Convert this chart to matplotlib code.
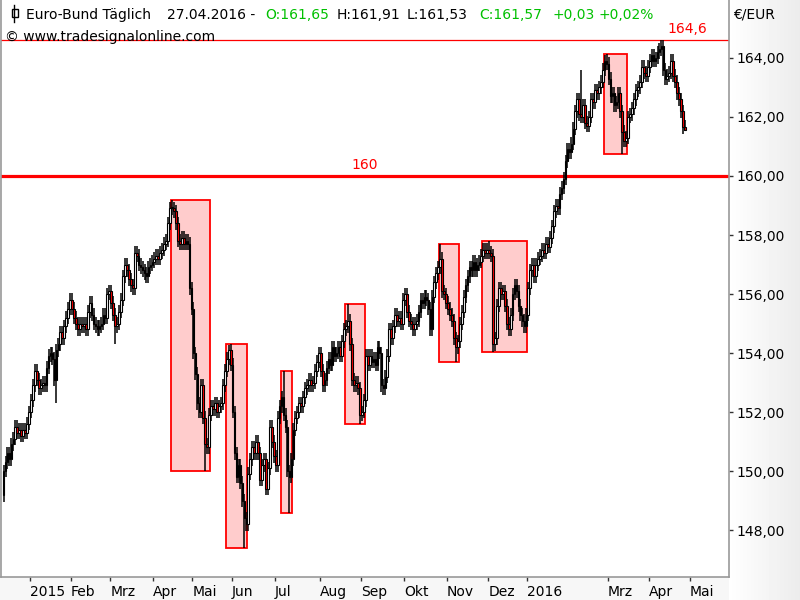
import numpy as np
import pandas as pd
import matplotlib
matplotlib.use('Agg')
import matplotlib.pyplot as plt
from matplotlib.patches import Rectangle
from matplotlib.lines import Line2D
from matplotlib.transforms import blended_transform_factory, ScaledTranslation

# Eurex holidays -> trading calendar for the x axis
holidays = ['2014-12-24', '2014-12-25', '2014-12-26', '2014-12-31', '2015-01-01',
            '2015-04-03', '2015-04-06', '2015-05-01', '2015-12-24', '2015-12-25',
            '2015-12-31', '2016-01-01', '2016-03-25', '2016-03-28']
days = pd.bdate_range('2014-12-08', '2016-05-31', freq='C', holidays=holidays)

# daily closes, month by month
dec14 = [150.0, 150.3, 150.6, 150.4, 150.9, 151.1, 151.5, 151.3, 151.4, 151.2, 151.4, 151.3, 151.6, 152.0]
jan15 = [152.4, 152.9, 153.4, 153.1, 152.8, 152.9, 153.0, 152.9, 153.5, 153.9, 154.0, 153.8, 153.1, 154.1,
         154.3, 154.7, 154.5, 154.9, 155.2, 155.5, 155.8]
feb15 = [155.5, 155.2, 155.0, 154.8, 155.0, 154.9, 155.0, 154.8, 155.4, 155.7, 155.3, 155.0, 154.9, 154.8,
         154.9, 155.0, 155.3, 155.2, 156.0, 156.1]
mar15 = [155.7, 155.3, 154.9, 155.0, 155.4, 155.8, 156.6, 157.0, 156.8, 156.5, 156.3, 156.2, 157.4, 157.3,
         157.0, 156.9, 156.8, 156.7, 156.6, 156.9, 157.0, 157.1]
apr15 = [157.2, 157.3, 157.2, 157.4, 157.5, 157.7, 157.8, 158.4, 158.9, 158.9, 158.8, 158.4, 157.8, 157.7,
         157.9, 157.7, 157.8, 157.7, 156.2, 155.5]
may15 = [154.0, 153.3, 152.3, 152.0, 152.9, 151.8, 150.9, 150.8, 151.9, 152.2, 152.1, 152.3, 152.0, 152.2,
         152.3, 152.9, 153.4, 153.8, 154.1, 153.6]
jun15 = [152.0, 150.6, 149.8, 150.2, 149.6, 149.0, 148.4, 148.2, 149.9, 150.4, 150.8, 150.6, 151.0, 150.6,
         149.7, 150.2, 150.4, 149.4, 150.1, 151.5, 151.0, 150.5]
jul15 = [150.2, 151.8, 152.2, 152.5, 151.9, 151.5, 150.0, 149.8, 150.4, 151.4, 151.8, 152.0, 152.3, 152.2,
         152.5, 152.8, 152.9, 153.1, 152.9, 153.0, 153.4, 153.7, 154.0]
aug15 = [153.4, 152.9, 153.1, 153.5, 153.8, 153.6, 154.2, 153.9, 154.0, 154.2, 153.9, 154.4, 154.8, 154.9,
         155.1, 154.3, 153.1, 152.9, 153.0, 152.8, 151.9]
sep15 = [152.0, 152.4, 153.9, 153.6, 153.9, 153.7, 153.8, 153.6, 154.2, 154.0, 152.9, 152.8, 153.2, 153.9,
         154.8, 154.5, 154.9, 155.3, 155.1, 155.2, 155.0, 155.8]
oct15 = [156.0, 155.4, 155.1, 155.0, 154.8, 155.0, 155.1, 155.4, 155.8, 155.7, 155.9, 155.8, 155.5, 154.8,
         155.9, 156.4, 156.7, 156.9, 157.2, 156.1, 156.0, 155.7]
nov15 = [155.5, 155.3, 155.1, 154.5, 154.2, 154.4, 155.0, 155.4, 155.9, 156.3, 156.6, 156.9, 156.8, 157.1,
         156.8, 157.0, 157.1, 157.3, 157.5, 157.4, 157.5]
dec15 = [157.4, 157.3, 154.3, 154.5, 155.6, 156.2, 156.0, 156.1, 155.6, 155.0, 154.8, 155.3, 156.0, 156.3,
         156.1, 155.6, 155.3, 155.1, 154.9, 155.3]
jan16 = [156.2, 156.8, 157.0, 156.6, 157.0, 157.2, 157.3, 157.5, 157.4, 157.7, 157.6, 157.9, 158.3, 158.8,
         159.0, 158.9, 159.4, 159.6, 159.9, 160.5]
feb16 = [160.9, 160.8, 161.1, 161.6, 162.2, 162.6, 162.1, 162.0, 162.4, 161.8, 161.7, 162.0, 162.6, 162.5,
         162.9, 162.8, 163.0, 163.2, 163.6, 163.9, 163.8]
mar16 = [163.3, 162.7, 162.8, 162.4, 162.5, 162.8, 162.2, 161.5, 161.2, 161.3, 162.0, 162.1, 162.3, 162.6,
         162.9, 163.0, 163.2, 163.7, 163.5, 163.4, 163.7]
apr16 = [163.9, 164.1, 163.9, 164.0, 164.2, 164.3, 164.4, 163.6, 163.3, 163.4, 163.5, 163.9, 163.4, 163.2,
         162.8, 162.6, 162.2, 161.65, 161.57]
first_open = 149.2
wick = 0.22

# long wicks visible on the chart
ext_high_dates = ['2015-04-16', '2015-05-28', '2015-07-07', '2015-08-21', '2015-10-27',
                  '2015-12-01', '2016-02-10', '2016-02-26', '2016-04-11', '2016-04-27']
ext_high_vals = [159.2, 154.27, 153.4, 155.66, 157.69, 157.8, 163.6, 164.1, 164.6, 161.91]
ext_low_dates = ['2014-12-08', '2015-01-21', '2015-03-04', '2015-05-12', '2015-06-09', '2015-07-10',
                 '2015-08-31', '2015-11-06', '2015-12-03', '2016-03-10', '2016-04-27']
ext_low_vals = [148.95, 152.3, 154.3, 150.0, 147.4, 148.58, 151.59, 153.69, 154.03, 160.75, 161.53]

# highlighted boxes (first day, last day)
box_start = ['2015-04-16', '2015-05-27', '2015-07-06', '2015-08-20', '2015-10-27', '2015-11-26', '2016-02-26']
box_end = ['2015-05-14', '2015-06-10', '2015-07-13', '2015-09-02', '2015-11-09', '2015-12-30', '2016-03-14']

month_labels = ['2015', 'Feb', 'Mrz', 'Apr', 'Mai', 'Jun', 'Jul', 'Aug', 'Sep', 'Okt', 'Nov', 'Dez',
                '2016', 'Mrz', 'Apr', 'Mai']
month_starts = ['2015-01', '2015-02', '2015-03', '2015-04', '2015-05', '2015-06', '2015-07', '2015-08',
                '2015-09', '2015-10', '2015-11', '2015-12', '2016-01', '2016-03', '2016-04', '2016-05']

closes = np.array(dec14 + jan15 + feb15 + mar15 + apr15 + may15 + jun15 + jul15 + aug15 + sep15 +
                  oct15 + nov15 + dec15 + jan16 + feb16 + mar16 + apr16)
n = len(closes)
x = np.arange(n)
opens = np.concatenate([[first_open], closes[:-1]])
highs = np.maximum(opens, closes) + wick
lows = np.minimum(opens, closes) - wick
pos = {d.strftime('%Y-%m-%d'): i for i, d in enumerate(days)}
for d, v in zip(ext_high_dates, ext_high_vals):
    highs[pos[d]] = v
for d, v in zip(ext_low_dates, ext_low_vals):
    lows[pos[d]] = v

fig = plt.figure(figsize=(8, 6), dpi=100, facecolor='#f5f5f5')

# light grey gradient behind the axis panels
bg = fig.add_axes([0, 0, 1, 1], zorder=-5)
gx = np.linspace(0, 1, 800)
grad = np.tile(np.where(gx < 729/800, 0.965, 1.0 - 0.075 * (gx - 729/800) / (71/800)), (600, 1))
bg.imshow(grad, cmap='gray', vmin=0, vmax=1, aspect='auto', extent=[0, 1, 0, 1])
bg.set_axis_off()

ax = fig.add_axes([1/800, 23/600, 728/800, 577/600])
ax.set_facecolor('white')

# boxes behind the candles
for s, e in zip(box_start, box_end):
    a, b = pos[s], pos[e]
    lo = lows[a:b+1].min()
    hi = highs[a:b+1].max()
    ax.add_patch(Rectangle((a - 0.5, lo), b - a + 1, hi - lo, facecolor='#ffcccc',
                           edgecolor='red', linewidth=1.3, zorder=1))

ax.axhline(160, color='red', linewidth=2.3, zorder=2)
ax.axhline(164.6, color='red', linewidth=0.9, zorder=2)

up = closes >= opens
ax.vlines(x, lows, highs, color='black', linewidth=1.1, zorder=3)
body = np.maximum(np.abs(closes - opens), 0.04)
ax.bar(x, body, bottom=np.minimum(opens, closes), width=0.85,
       color=np.where(up, 'white', 'red'), edgecolor='black', linewidth=0.8, zorder=4)

trans = blended_transform_factory(ax.transAxes, ax.transData)
ax.text(0.5, 160.15, '160', transform=trans, ha='center', va='bottom', color='red', fontsize=10)
ax.text(0.9698, 164.75, '164,6', transform=trans, ha='right', va='bottom', color='red', fontsize=10)

ax.set_xlim(-1.3, 370.5)
ax.set_ylim(146.407, 165.966)

ax.yaxis.tick_right()
yt = np.arange(148, 165, 2)
ax.set_yticks(yt)
ax.set_yticklabels([('%.2f' % v).replace('.', ',') for v in yt])

xt = [np.argmax(days.strftime('%Y-%m') == m) - 0.5 for m in month_starts]
ax.set_xticks(xt)
ax.set_xticklabels(month_labels, ha='left')
for lab in ax.get_xticklabels():
    lab.set_transform(lab.get_transform() + ScaledTranslation(0.03, 0, fig.dpi_scale_trans))
ax.tick_params(axis='both', direction='out', length=3, width=1, color='#333333',
               labelsize=10, pad=2)
ax.tick_params(axis='x', pad=3)

for side in ['left', 'right', 'bottom']:
    ax.spines[side].set_color('#999999')
    ax.spines[side].set_linewidth(1.2)
ax.spines['top'].set_visible(False)

# header
def ftext(px, py, s, color='black'):
    fig.text(px / 800, 1 - py / 600, s, color=color, fontsize=10, va='baseline', ha='left')

green = '#00c000'
ftext(26, 19, 'Euro-Bund Täglich')
ftext(167, 19, '27.04.2016 -')
ftext(265, 19, 'O:161,65', green)
ftext(337, 19, 'H:161,91')
ftext(407, 19, 'L:161,53')
ftext(479, 19, 'C:161,57', green)
ftext(552, 19, '+0,03', green)
ftext(599, 19, '+0,02%', green)
ftext(5, 40.5, '© www.tradesignalonline.com')
ftext(733, 19, '€/EUR')

# little candle icon in front of the title
fig.add_artist(Line2D([14.5/800, 14.5/800], [1 - 5/600, 1 - 22/600], color='black', lw=1))
fig.add_artist(Rectangle((11.5/800, 1 - 17/600), 6/800, 8/600, facecolor='white',
                         edgecolor='black', lw=1))

fig.savefig('out.png', dpi=100, facecolor=fig.get_facecolor())
